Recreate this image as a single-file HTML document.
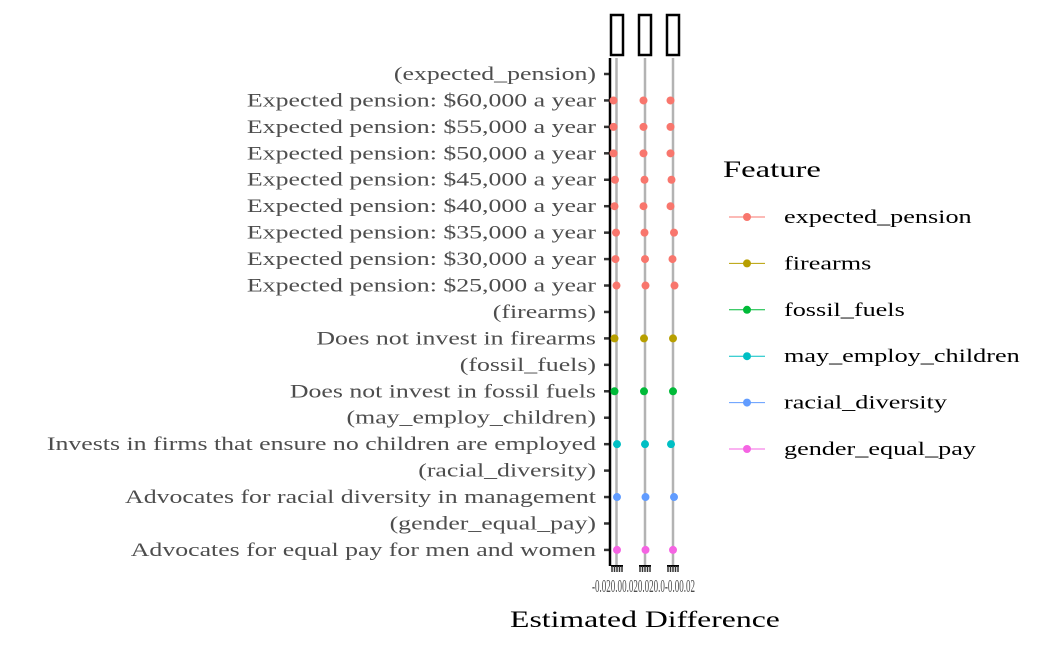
<!DOCTYPE html>
<html><head><meta charset="utf-8"><style>
body{margin:0;background:#fff}
svg{display:block;font-family:"Liberation Serif",serif}
</style></head><body>
<svg id="c" width="1050" height="648"></svg>
<script>
const rows=["(expected_pension)","Expected pension: $60,000 a year","Expected pension: $55,000 a year","Expected pension: $50,000 a year","Expected pension: $45,000 a year","Expected pension: $40,000 a year","Expected pension: $35,000 a year","Expected pension: $30,000 a year","Expected pension: $25,000 a year","(firearms)","Does not invest in firearms","(fossil_fuels)","Does not invest in fossil fuels","(may_employ_children)","Invests in firms that ensure no children are employed","(racial_diversity)","Advocates for racial diversity in management","(gender_equal_pay)","Advocates for equal pay for men and women"];
const pointRows=[1,2,3,4,5,6,7,8,10,12,14,16,18];
const pointFeature=["expected_pension","expected_pension","expected_pension","expected_pension","expected_pension","expected_pension","expected_pension","expected_pension","firearms","fossil_fuels","may_employ_children","racial_diversity","gender_equal_pay"];
const panel1=[-0.012,-0.012,-0.012,-0.006,-0.008,-0.002,-0.004,0.0,-0.008,-0.008,0.002,0.002,0.002];
const panel2=[-0.006,-0.006,-0.006,-0.002,-0.006,-0.002,0.0,0.002,-0.004,-0.004,0.0,0.002,0.002];
const panel3=[-0.010,-0.010,-0.010,-0.006,-0.010,0.004,-0.002,0.006,0.0,0.0,-0.008,0.004,0.0];
const features=["expected_pension","firearms","fossil_fuels","may_employ_children","racial_diversity","gender_equal_pay"];
const colors=["#F8766D","#B79F00","#00BA38","#00BFC4","#619CFF","#F564E3"];
const NS="http://www.w3.org/2000/svg",svg=document.getElementById('c');
function el(t,a,p){const e=document.createElementNS(NS,t);for(const k in a)e.setAttribute(k,a[k]);(p||svg).appendChild(e);return e;}
const sx=(x,s)=>`translate(${x},0) scale(${s},1) translate(${-x},0)`;
const y=i=>74+i*26.44;
const panels=[{x0:611,x1:623,zero:616.5,data:panel1},{x0:639,x1:651,zero:645,data:panel2},{x0:667,x1:679,zero:673,data:panel3}];
const xs=(p,v)=>p.zero+v*250;
rows.forEach((r,i)=>{
 const t=el('text',{x:596,y:y(i)+6,'text-anchor':'end','font-size':19,fill:'#4d4d4d',transform:sx(596,1.36)});t.textContent=r;
 
 
 const tk=el('line',{x1:604,x2:610,y1:y(i),y2:y(i),stroke:'#333','stroke-width':2.5});
 
 
});
const ax=el('line',{x1:610,x2:610,y1:58,y2:566,stroke:'#000','stroke-width':2.5});


panels.forEach((p,pi)=>{
 const g=el('g',{});
 
 
 const s=el('rect',{x:p.x0,y:15,width:p.x1-p.x0,height:40,fill:'#fff',stroke:'#000','stroke-width':2.5},g);
 
 
 el('line',{x1:p.zero,x2:p.zero,y1:58,y2:566,stroke:'#b3b3b3','stroke-width':2.5},g);
 el('line',{x1:p.x0,x2:p.x1,y1:566,y2:566,stroke:'#000','stroke-width':2},g);
 for(let k=0;k<5;k++)el('line',{x1:p.x0+1+k*2.5,x2:p.x0+1+k*2.5,y1:566,y2:572,stroke:'#333','stroke-width':1.5},g);
 p.data.forEach((v,i)=>{
  const c=el('circle',{cx:xs(p,v),cy:y(pointRows[i]),r:4,fill:colors[features.indexOf(pointFeature[i])]},g);
  
  
 });
});
const tl=el('text',{x:592,y:592,'font-size':18,fill:'#4d4d4d',textLength:103,lengthAdjust:'spacingAndGlyphs'});tl.textContent="-0.020.00.020.020.0-0.00.02";


const xt=el('text',{x:645,y:627,'text-anchor':'middle','font-size':23,fill:'#000',transform:sx(645,1.38)});xt.textContent="Estimated Difference";


const lt=el('text',{x:723,y:177,'font-size':23,transform:sx(723,1.42)});lt.textContent="Feature";


features.forEach((f,i)=>{
 const yy=217+i*46.4;
 const g=el('g',{});
 
 
 el('line',{x1:729,x2:765,y1:yy,y2:yy,stroke:colors[i],'stroke-width':1},g);
 el('circle',{cx:747,cy:yy,r:4,fill:colors[i]},g);
 const t=el('text',{x:784,y:yy+6,'font-size':19,transform:sx(784,1.38)},g);t.textContent=f;
});
</script>
</body></html>
